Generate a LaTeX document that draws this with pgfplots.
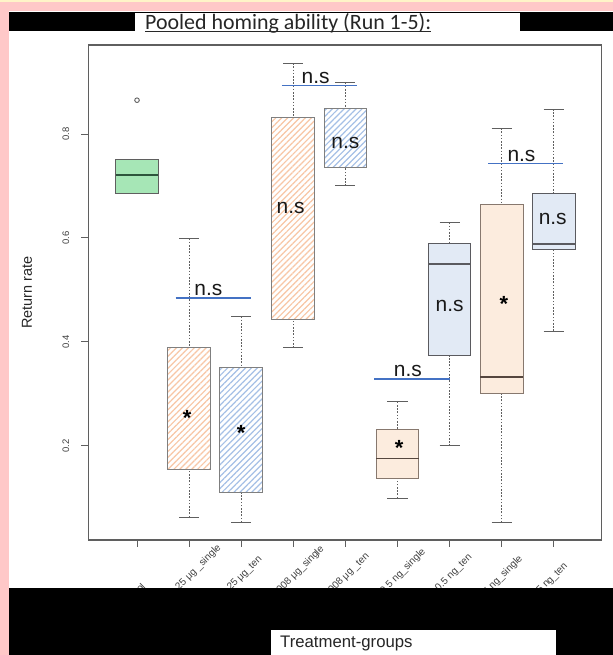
\documentclass[border=0pt]{standalone}
\usepackage{pgfplots}
\pgfplotsset{compat=1.18}
\usepgfplotslibrary{statistics}
\usetikzlibrary{patterns.meta}
\usepackage{fontspec}
\setmainfont{Liberation Sans}
\newfontfamily\titlefont{Carlito}

\definecolor{pinkbg}{RGB}{255,200,200}
\definecolor{creamtop}{RGB}{255,244,200}
\definecolor{axgray}{RGB}{95,95,95}
\definecolor{gfill}{RGB}{166,230,182}
\definecolor{gmed}{RGB}{45,85,60}
\definecolor{ohatch}{RGB}{248,198,165}
\definecolor{bhatch}{RGB}{165,192,230}
\definecolor{peach}{RGB}{252,236,222}
\definecolor{peachb}{RGB}{135,120,110}
\definecolor{peachm}{RGB}{85,70,62}
\definecolor{lblue}{RGB}{226,234,245}
\definecolor{lblueb}{RGB}{90,90,95}
\definecolor{nsblue}{RGB}{68,114,196}

\tikzset{
  wline/.style={draw=axgray, line width=0.9bp, dash pattern=on 1.6bp off 1.6bp},
  wcap/.style={draw=axgray, line width=1bp, solid},
  nstext/.style={font=\fontsize{21}{21}\selectfont, inner sep=0pt, text=black!90},
  startext/.style={font=\bfseries\fontsize{22}{22}\selectfont, inner sep=0pt},
  hatchO/.style={pattern={Lines[angle=45,distance=4.2bp,line width=1.2bp]}, pattern color=ohatch},
  hatchB/.style={pattern={Lines[angle=45,distance=4.2bp,line width=1.2bp]}, pattern color=bhatch},
}
\newcommand\titleul[1]{\setbox0\hbox{#1}\rlap{\color[RGB]{40,40,40}\rule[-3bp]{\wd0}{1.1bp}}\box0}
\newcommand\tsp[1]{\hspace{#1}\mbox{}}

\begin{document}
\begin{tikzpicture}[x=1bp,y=1bp]
\path[use as bounding box] (0,0) rectangle (613,655);
\fill[pinkbg] (0,0) rectangle (613,655);
\fill[creamtop] (0,653) rectangle (613,655);
\fill[white] (9,0) rectangle (613,644);
\fill[black] (9,624) rectangle (135,643.3);
\fill[black] (520,624) rectangle (613,643.3);
\fill[black] (9,642) rectangle (613,643.3);
\begin{axis}[
  at={(88.3bp,115bp)}, anchor=south west,
  scale only axis, width=513.4bp, height=495bp,
  xmin=0.065, xmax=9.92, ymin=0.0192, ymax=0.9712,
  axis line style={draw=axgray, line width=1.2bp},
  tick style={draw=axgray, line width=1bp},
  major tick length=7bp, tick align=outside, tick pos=left,
  xtick={1,2,3,4,5,6,7,8,9},
  xticklabels={
    \smash{\raisebox{-11.3bp}{Control}}\vphantom{Cg}\tsp{44bp},
    0.25 μg \_single,
    0.25 μg\_ten\tsp{15.6bp},
    0.008 μg\_single\tsp{1.5bp},
    0.008 μg \_ten\tsp{11.3bp},
    0.5 ng\_single\tsp{5.5bp},
    0.5 ng\_ten\tsp{13.3bp},
    0.05 ng\_single\tsp{15.6bp},
    0.05 ng\_ten\tsp{25.5bp}},
  xticklabel style={xshift=30.5bp, yshift=0.5bp, rotate=45, anchor=east, inner sep=0pt, font=\fontsize{10}{12}\selectfont, text=black!75},
  ytick={0.2,0.4,0.6,0.8},
  /pgf/number format/assume math mode=true,
  yticklabel style={xshift=-12bp, rotate=90, anchor=south, inner sep=0pt, font=\fontsize{9.5}{11}\selectfont, text=black!75, /pgf/number format/fixed, /pgf/number format/precision=1},
  ylabel={Return rate},
  ylabel style={at={(axis description cs:-0.1194,0.5)}, anchor=center, font=\fontsize{14.5}{16}\selectfont, text=black!85},
  title={\titleul{Pooled homing ability (Run 1-5):}},
  title style={at={(axis description cs:0.1104,1.0202)}, anchor=base west, inner sep=0pt, font=\titlefont\fontsize{22}{24}\selectfont, text=black!85},
  boxplot/draw direction=y,
  boxplot/box extend=0.82,
  boxplot/draw/lower whisker/.code={%
    \draw[wline] (boxplot box cs:\pgfplotsboxplotvalue{lower whisker},0.5) -- (boxplot box cs:\pgfplotsboxplotvalue{lower quartile},0.5);
    \draw[wcap] (boxplot box cs:\pgfplotsboxplotvalue{lower whisker},0.265) -- (boxplot box cs:\pgfplotsboxplotvalue{lower whisker},0.735);
  },
  boxplot/draw/upper whisker/.code={%
    \draw[wline] (boxplot box cs:\pgfplotsboxplotvalue{upper whisker},0.5) -- (boxplot box cs:\pgfplotsboxplotvalue{upper quartile},0.5);
    \draw[wcap] (boxplot box cs:\pgfplotsboxplotvalue{upper whisker},0.265) -- (boxplot box cs:\pgfplotsboxplotvalue{upper whisker},0.735);
  },
]
% 1 Control
\addplot[mark=o, mark size=2.3bp, mark options={draw=axgray, fill=none, solid, line width=0.9bp},
  boxplot/every box/.style={draw=axgray, fill=gfill, line width=1bp},
  boxplot/every median/.style={draw=gmed, line width=2bp},
  boxplot prepared={draw position=1, median=0.721, upper quartile=0.750, lower quartile=0.686, upper whisker=0.750, lower whisker=0.686}]
  coordinates {(1,0.865)};
% 2 0.25 single (orange hatch)
\addplot[mark=none,
  boxplot/every box/.style={draw=axgray!80, line width=1bp, hatchO},
  boxplot/every median/.style={draw=none},
  boxplot prepared={draw position=2, median=0.25, upper quartile=0.389, lower quartile=0.154, upper whisker=0.599, lower whisker=0.063}]
  coordinates {};
% 3 0.25 ten (blue hatch)
\addplot[mark=none,
  boxplot/every box/.style={draw=axgray!80, line width=1bp, hatchB},
  boxplot/every median/.style={draw=none},
  boxplot prepared={draw position=3, median=0.22, upper quartile=0.351, lower quartile=0.110, upper whisker=0.449, lower whisker=0.053}]
  coordinates {};
% 4 0.008 single (orange hatch)
\addplot[mark=none,
  boxplot/every box/.style={draw=axgray!80, line width=1bp, hatchO},
  boxplot/every median/.style={draw=none},
  boxplot prepared={draw position=4, median=0.65, upper quartile=0.832, lower quartile=0.444, upper whisker=0.936, lower whisker=0.389}]
  coordinates {};
% 5 0.008 ten (blue hatch)
\addplot[mark=none,
  boxplot/every box/.style={draw=axgray!80, line width=1bp, hatchB},
  boxplot/every median/.style={draw=none},
  boxplot prepared={draw position=5, median=0.79, upper quartile=0.849, lower quartile=0.736, upper whisker=0.899, lower whisker=0.700}]
  coordinates {};
% 6 5 ng single (peach)
\addplot[mark=none,
  boxplot/every box/.style={draw=peachb, fill=peach, line width=1bp},
  boxplot/every median/.style={draw=peachm, line width=1.6bp},
  boxplot prepared={draw position=6, median=0.176, upper quartile=0.231, lower quartile=0.138, upper whisker=0.285, lower whisker=0.0995}]
  coordinates {};
% 7 5 ng ten (light blue)
\addplot[mark=none,
  boxplot/every box/.style={draw=lblueb, fill=lblue, line width=1bp},
  boxplot/every median/.style={draw=lblueb, line width=1.6bp},
  boxplot prepared={draw position=7, median=0.550, upper quartile=0.590, lower quartile=0.374, upper whisker=0.630, lower whisker=0.200}]
  coordinates {};
% 8 ng single (peach)
\addplot[mark=none,
  boxplot/every box/.style={draw=peachb, fill=peach, line width=1bp},
  boxplot/every median/.style={draw=peachm, line width=1.6bp},
  boxplot prepared={draw position=8, median=0.333, upper quartile=0.665, lower quartile=0.300, upper whisker=0.811, lower whisker=0.0525}]
  coordinates {};
% 9 ng ten (light blue)
\addplot[mark=none,
  boxplot/every box/.style={draw=lblueb, fill=lblue, line width=1bp},
  boxplot/every median/.style={draw=lblueb, line width=1.6bp},
  boxplot prepared={draw position=9, median=0.588, upper quartile=0.686, lower quartile=0.578, upper whisker=0.848, lower whisker=0.421}]
  coordinates {};
% significance lines
\addplot[nsblue, line width=1.7bp, mark=none] coordinates {(1.74,0.485) (3.18,0.485)};
\addplot[nsblue, line width=1.7bp, mark=none] coordinates {(3.78,0.893) (5.23,0.893)};
\addplot[nsblue, line width=1.7bp, mark=none] coordinates {(5.55,0.329) (7.01,0.329)};
\addplot[nsblue, line width=1.7bp, mark=none] coordinates {(7.74,0.743) (9.18,0.743)};
\node[nstext, anchor=base] at (axis cs:2.37,0.489) {n.s};
\node[nstext, anchor=base] at (axis cs:4.43,0.897) {n.s};
\node[nstext, anchor=base] at (axis cs:6.20,0.333) {n.s};
\node[nstext, anchor=base] at (axis cs:8.38,0.747) {n.s};
\node[nstext] at (axis cs:3.95,0.658) {n.s};
\node[nstext] at (axis cs:5.00,0.783) {n.s};
\node[nstext] at (axis cs:7.00,0.469) {n.s};
\node[nstext] at (axis cs:8.98,0.636) {n.s};
\node[startext] at (axis cs:1.96,0.254) {*};
\node[startext] at (axis cs:3.00,0.225) {*};
\node[startext] at (axis cs:6.03,0.196) {*};
\node[startext] at (axis cs:8.04,0.474) {*};
\end{axis}
\fill[black] (9,0) rectangle (613,67);
\fill[white] (271,0) rectangle (556,25);
\node[anchor=west, inner sep=0pt, font=\fontsize{16.8}{17}\selectfont, text=black!85] at (280,12) {Treatment-groups};
\end{tikzpicture}
\end{document}
